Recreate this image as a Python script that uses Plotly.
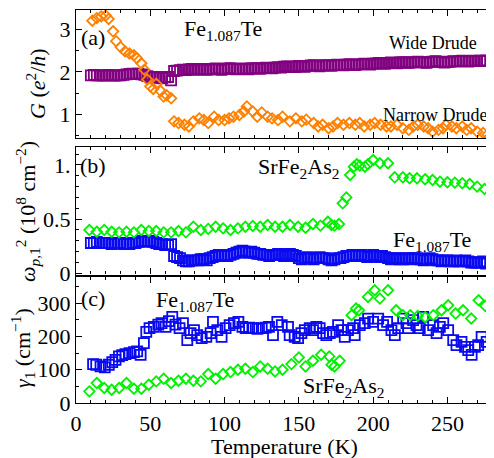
import plotly.graph_objects as go

# ---------------- data ----------------
# Fe1.087Te dense grid (panels a and b)
T_fe = [10,12,14,16,18,20,22,24,26,28,
        30,32,34,36,38,40,42,44,46,48,
        50,52,54,56,58,60,62,64,66,68,
        70,72,74,76,78,80,82,84,86,88,
        90,92,94,96,98,100,102,104,106,108,
        110,112,114,116,118,120,122,124,126,128,
        130,132,134,136,138,140,142,144,146,148,
        150,152,154,156,158,160,162,164,166,168,
        170,172,174,176,178,180,182,184,186,188,
        190,192,194,196,198,200,202,204,206,208,
        210,212,214,216,218,220,222,224,226,228,
        230,232,234,236,238,240,242,244,246,248,
        250,252,254,256,258,260,262,264,266,268,
        270,272,274,276]

G_wide = [1.92,1.93,1.92,1.92,1.91,1.92,1.93,1.92,1.91,1.92,
          1.92,1.93,1.94,1.95,1.96,1.95,1.96,1.94,1.93,1.90,
          1.88,1.87,1.88,1.86,1.85,1.87,1.88,1.80,2.02,2.03,
          2.04,2.05,2.04,2.06,2.07,2.05,2.06,2.07,2.06,2.05,
          2.06,2.07,2.08,2.06,2.05,2.07,2.08,2.09,2.07,2.06,
          2.07,2.08,2.07,2.06,2.08,2.09,2.08,2.07,2.09,2.10,
          2.09,2.08,2.10,2.11,2.10,2.12,2.13,2.12,2.11,2.12,
          2.14,2.13,2.12,2.14,2.15,2.16,2.14,2.13,2.15,2.16,
          2.15,2.14,2.16,2.17,2.16,2.15,2.17,2.18,2.17,2.16,
          2.17,2.18,2.19,2.18,2.17,2.19,2.20,2.21,2.20,2.19,
          2.21,2.22,2.21,2.20,2.22,2.23,2.22,2.21,2.22,2.23,
          2.24,2.23,2.22,2.21,2.23,2.24,2.25,2.24,2.23,2.22,
          2.23,2.24,2.25,2.24,2.25,2.26,2.25,2.24,2.25,2.26,
          2.25,2.26,2.25,2.27]

W_fe = [0.28,0.28,0.29,0.28,0.28,0.28,0.28,0.27,0.28,0.28,
        0.28,0.27,0.27,0.27,0.28,0.28,0.29,0.30,0.30,0.29,
        0.30,0.29,0.28,0.27,0.27,0.26,0.26,0.27,0.16,0.15,
        0.14,0.12,0.11,0.11,0.12,0.12,0.12,0.13,0.13,0.12,
        0.14,0.15,0.16,0.17,0.16,0.17,0.16,0.17,0.18,0.19,
        0.20,0.21,0.20,0.19,0.20,0.19,0.18,0.18,0.17,0.17,
        0.16,0.17,0.17,0.18,0.17,0.16,0.17,0.18,0.17,0.16,
        0.14,0.13,0.14,0.15,0.14,0.13,0.14,0.15,0.14,0.14,
        0.13,0.12,0.13,0.14,0.14,0.15,0.16,0.16,0.17,0.16,
        0.16,0.17,0.16,0.15,0.16,0.17,0.16,0.15,0.16,0.15,
        0.14,0.13,0.14,0.14,0.13,0.13,0.14,0.14,0.13,0.14,
        0.14,0.13,0.12,0.13,0.14,0.13,0.12,0.12,0.11,0.12,
        0.12,0.11,0.11,0.12,0.11,0.11,0.12,0.11,0.10,0.10,
        0.10,0.10,0.11,0.09]

T_narrow = [11,14,17,20,22,25,27,30,33,36,39,41,44,46,48,50,52,54,57,59,61,64,
            66,69,73,76,79,83,86,89,93,96,100,103,106,110,113,115,119,122,125,129,132,136,139,
            144,148,152,155,160,163,166,170,173,176,180,184,188,191,194,198,201,205,209,212,
            216,220,224,227,230,234,237,240,244,247,249,253,256,260,263,266,270,274,277]
G_narrow = [3.20,3.26,3.30,3.32,3.24,2.95,2.72,2.58,2.48,2.43,2.39,2.32,2.20,2.05,1.82,1.66,1.60,1.72,1.55,1.42,1.45,1.38,
            0.84,0.80,0.76,0.72,0.84,0.91,0.87,0.80,0.95,0.87,0.87,0.91,0.95,0.99,1.07,1.19,1.07,0.95,1.05,0.95,0.91,0.87,0.95,
            0.84,0.91,0.84,0.88,0.80,0.72,0.76,0.68,0.72,0.80,0.76,0.80,0.76,0.80,0.72,0.76,0.80,0.76,0.72,0.72,
            0.76,0.68,0.64,0.72,0.76,0.72,0.68,0.60,0.64,0.68,0.76,0.72,0.68,0.72,0.64,0.68,0.60,0.57,0.53]

# SrFe2As2 (panel b)
T_sr_b = [9,14,19,24,29,34,39,44,49,54,59,64,69,74,79,84,89,94,99,104,109,114,119,124,129,134,139,
          144,149.5,154.5,159.5,164.5,169.5,172,174,177,179.5,182,184.5,187,189,191,194.5,196.5,200,
          204.5,210,214.5,220,224.5,229.5,235,240,245,250,255,260,265,270,275,280]
W_sr = [0.40,0.384,0.40,0.384,0.378,0.384,0.378,0.40,0.39,0.39,0.378,0.378,0.39,0.378,0.43,0.40,0.41,0.43,
        0.415,0.40,0.415,0.43,0.437,0.43,0.446,0.43,0.43,
        0.446,0.43,0.42,0.455,0.44,0.476,0.446,0.44,0.455,0.646,0.70,0.908,0.984,1.006,0.994,0.984,1.006,1.046,
        1.016,1.016,0.886,0.886,0.877,0.877,0.868,0.861,0.846,0.84,0.837,0.831,0.825,0.80,0.778,0.753]

# panel c
T_fe_c = [11.5,13.6,16.5,19.4,22.1,24.4,26.6,28.9,31.1,33.3,36,39,41.2,43.5,45.7,47.3,49.5,52.4,55.4,57.6,
          60.3,62.5,64.8,67,69.7,72,74.9,77.1,79.4,81.6,84.6,87.7,90.6,92.2,95.1,98,100.7,103.4,106.3,109.3,
          112,114.2,116.5,119.2,122.1,125,127.7,129.9,132.6,135.5,138.5,
          142.7,143.8,147.2,149.5,151.7,154,157.3,159.6,161.8,164,166.3,168.5,170.8,173,176.4,178.7,180.9,
          183.1,186.5,187.6,191,194.4,196.6,200,203.4,206.7,209.4,212.3,214.6,216.8,220.2,222.4,223.6,226.9,
          229.2,231.4,233.7,237,240.4,242.7,244.9,247.2,250.5,253.9,256.1,259.5,261.8,264,266.3,268.5,270.7,
          273,276.4]
Gam_fe = [117,115,110,107,115,123,130,140,144,147,150,153,155,145,180,214,225,229,236,240,
          229,246,259,236,225,240,189,210,219,204,195,199,210,244,219,199,225,234,240,244,
          229,225,227,225,223,225,227,229,204,244,234,
          229,204,199,195,210,219,225,219,229,225,210,204,210,214,234,219,199,
          219,225,204,234,240,254,244,254,234,244,219,204,225,254,240,225,249,
          234,225,259,219,234,210,229,240,219,189,174,184,169,159,145,169,174,
          199,184]

T_sr_c = [9,14,19,24,29,34,39,44,49,54,59,64,69,74,79,84,89,94,99,104,109,114,119,124,129,134,139,
          145,150,154.5,159.5,165,170.5,172,174,177.5,185.5,188.5,190.5,196.5,201,204.5,210,215.5,220,
          225,230,235,240.5,246,250.5,255.5,260.5,266,271,275.5,280]
Gam_sr = [35,60,45,40,45,60,43,43,55,65,73,60,67,73,67,65,87,73,87,93,100,103,93,110,103,95,100,
          117,137,110,127,145,140,115,110,127,264,284,279,319,339,314,339,279,264,
          264,262,258,264,279,294,269,279,254,309,292,309]

x_ticks = [0, 50, 100, 150, 200, 250]

# ---------------- style ----------------
FONT = "Liberation Serif"
PURPLE = "#800080"
ORANGE = "#FF8000"
GREEN = "#00F000"
BLUE = "#0A0AF0"

OFF = 8                      # page body margin of the browser
W, H = 494, 458              # window size
L, R, T, B = 76, 2, 10, 55   # plot area in window pixels
PW, PH = W - L - R, H - T - B


def px(x, y):
    return (x - L) / PW, (H - B - y) / PH


def mk(symbol, color, size=10, lw=1.8):
    return dict(symbol=symbol, size=size, color=color, line=dict(width=lw, color=color))


fig = go.Figure()
fig.add_trace(go.Scatter(x=T_fe, y=G_wide, mode="markers", marker=mk("square-open", PURPLE),
                         xaxis="x", yaxis="y"))
fig.add_trace(go.Scatter(x=T_narrow, y=G_narrow, mode="markers", marker=mk("diamond-open", ORANGE, 8),
                         xaxis="x", yaxis="y"))
fig.add_trace(go.Scatter(x=T_fe, y=W_fe, mode="markers", marker=mk("square-open", BLUE),
                         xaxis="x2", yaxis="y2"))
fig.add_trace(go.Scatter(x=T_sr_b, y=W_sr, mode="markers", marker=mk("diamond-open", GREEN, 8),
                         xaxis="x2", yaxis="y2"))
fig.add_trace(go.Scatter(x=T_fe_c, y=Gam_fe, mode="markers", marker=mk("square-open", BLUE),
                         xaxis="x3", yaxis="y3"))
fig.add_trace(go.Scatter(x=T_sr_c, y=Gam_sr, mode="markers", marker=mk("diamond-open", GREEN, 8),
                         xaxis="x3", yaxis="y3"))

tickfont = dict(family=FONT, size=22, color="black")
common = dict(showline=True, linecolor="black", linewidth=1.2, mirror="allticks",
              ticks="inside", ticklen=6, tickwidth=1, tickcolor="black",
              showgrid=False, zeroline=False, tickfont=tickfont)

def xax(anchor, labels):
    return dict(common, range=[0, 280], tickvals=x_ticks, showticklabels=labels, anchor=anchor,
                domain=[0, 1], minor=dict(dtick=10, tick0=0, ticks="inside", ticklen=3,
                                           tickcolor="black", showgrid=False))

dom_a = [px(0, 138)[1], 1.0]
dom_b = [px(0, 274.5)[1], px(0, 147)[1]]
dom_c = [0.0, px(0, 277)[1]]

fig.update_layout(
    width=W - OFF, height=H - OFF,
    margin=dict(l=L - OFF, r=R, t=T - OFF, b=B),
    paper_bgcolor="white", plot_bgcolor="white", showlegend=False,
    xaxis=xax("y", False),
    xaxis2=xax("y2", False),
    xaxis3=xax("y3", True),
    yaxis=dict(common, domain=dom_a, range=[0.45, 3.45], tickvals=[1, 2, 3], anchor="x",
               minor=dict(dtick=0.5, tick0=0, ticks="inside", ticklen=3, tickcolor="black")),
    yaxis2=dict(common, domain=dom_b, range=[-0.011, 1.166], tickvals=[0, 0.5, 1],
                ticktext=["0", "0.5", "1."], anchor="x2",
                minor=dict(dtick=0.1, tick0=0, ticks="inside", ticklen=3, tickcolor="black")),
    yaxis3=dict(common, domain=dom_c, range=[0, 379], tickvals=[0, 100, 200, 300], anchor="x3",
                minor=dict(dtick=50, tick0=0, ticks="inside", ticklen=3, tickcolor="black")),
)

def ann(text, x, y, size=22, angle=0, xanchor="center"):
    xp, yp = px(x, y)
    fig.add_annotation(text=text, x=xp, y=yp, xref="paper", yref="paper", showarrow=False,
                       textangle=angle, xanchor=xanchor, yanchor="middle",
                       font=dict(family=FONT, size=size, color="black"))

# axis titles
ann("Temperature (K)", 284, 447, 22)
ann("<i>G</i> (<i>e</i><sup>2</sup>/<i>h</i>)", 36, 84, 22, -90)
ann("<i>ω</i><sub><i>p</i>,1</sub><sup>2</sup> (10<sup>8</sup> cm<sup>−2</sup>)", 27, 212, 22, -90)
ann("<i>γ</i><sub>1</sub> (cm<sup>−1</sup>)", 22, 348, 22, -90)

# panel labels and series labels
ann("(a)", 93, 37, 22)
ann("Fe<sub>1.087</sub>Te", 223, 30, 22)
ann("Wide Drude", 433, 43, 18)
ann("Narrow Drude", 435, 115, 18)
ann("(b)", 93, 165, 22)
ann("SrFe<sub>2</sub>As<sub>2</sub>", 298, 168, 22)
ann("Fe<sub>1.087</sub>Te", 432, 241, 22)
ann("(c)", 93, 298, 22)
ann("Fe<sub>1.087</sub>Te", 195, 301, 22)
ann("SrFe<sub>2</sub>As<sub>2</sub>", 343, 387, 22)

fig.write_html("out.html")
